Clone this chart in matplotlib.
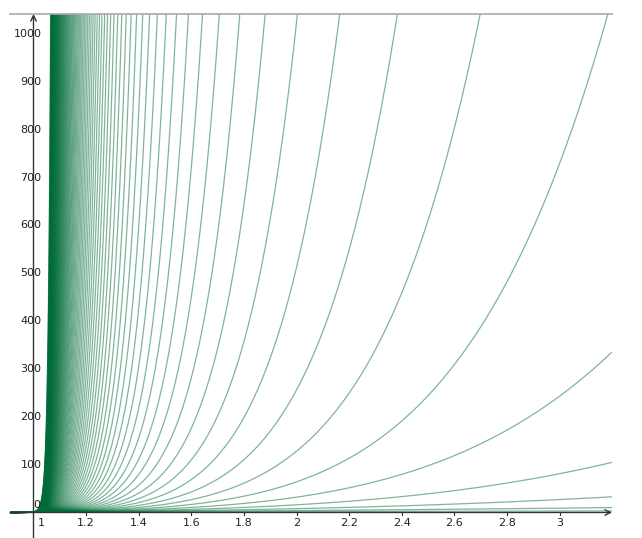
import numpy as np
import matplotlib
matplotlib.use('Agg')
import matplotlib.pyplot as plt

# Exponents n of the family y = x**n
exponents = list(range(1, 111))
x_ticks = [1.2, 1.4, 1.6, 1.8, 2.0, 2.2, 2.4, 2.6, 2.8, 3.0]
x_tick_labels = ['1.2', '1.4', '1.6', '1.8', '2', '2.2', '2.4', '2.6', '2.8', '3']
y_ticks = [100, 200, 300, 400, 500, 600, 700, 800, 900, 1000]
y_tick_labels = ['100', '200', '300', '400', '500', '600', '700', '800', '900', '1000']

W, H = 642, 538
fig = plt.figure(figsize=(W / 100, H / 100), dpi=100)
px_left, px_right, px_top, px_bottom = 10, 612, 14, 532
ax = fig.add_axes([px_left / W, 1 - px_bottom / H, (px_right - px_left) / W, (px_bottom - px_top) / H])

x_per_px = 1 / 263.0
y_per_px = 1 / 0.478
xmin = 1 - (33.5 - px_left) * x_per_px
xmax = 1 + (px_right - 33.5) * x_per_px
ymin = -(px_bottom - 512.5) * y_per_px
ymax = 1000 + (34 - px_top) * y_per_px
ax.set_xlim(xmin, xmax)
ax.set_ylim(ymin, ymax)

x = np.linspace(xmin, xmax, 6000)
for n in exponents:
    y = x ** n
    y = np.where(y > ymax * 1.5, np.nan, y)
    ax.plot(x, y, color='#006b38', lw=0.9, alpha=0.5, solid_capstyle='butt')

for s in ax.spines.values():
    s.set_visible(False)
ax.set_xticks([])
ax.set_yticks([])

axis_color = '#333333'
# x axis with arrow
ax.annotate('', xy=(xmax, 0), xytext=(xmin, 0),
            arrowprops=dict(arrowstyle='->', lw=1.0, color=axis_color,
                            shrinkA=0, shrinkB=0, mutation_scale=10),
            annotation_clip=False)
# y axis with arrow
ax.annotate('', xy=(1, ymax), xytext=(1, ymin - 6 * y_per_px),
            arrowprops=dict(arrowstyle='->', lw=1.0, color=axis_color,
                            shrinkA=0, shrinkB=0, mutation_scale=10),
            annotation_clip=False)
# top border line
ax.plot([xmin, xmax], [ymax, ymax], color='#aaaaaa', lw=1.2, clip_on=False)

fs = 8
for t, lab in zip(x_ticks, x_tick_labels):
    ax.plot([t, t], [0, -3 * y_per_px], color=axis_color, lw=0.8, clip_on=False)
    ax.text(t, -11 * y_per_px, lab, ha='center', va='center', fontsize=fs, color='#222222')
ax.text(1 + 8 * x_per_px, -11 * y_per_px, '1', ha='center', va='center', fontsize=fs, color='#222222')

for t, lab in zip(y_ticks, y_tick_labels):
    ax.text(1 + 8 * x_per_px, t, lab, ha='right', va='center', fontsize=fs, color='#222222')
ax.text(1 + 7 * x_per_px, 7 * y_per_px, '0', ha='right', va='center', fontsize=fs, color='#222222')

fig.savefig('out.png', dpi=100)
